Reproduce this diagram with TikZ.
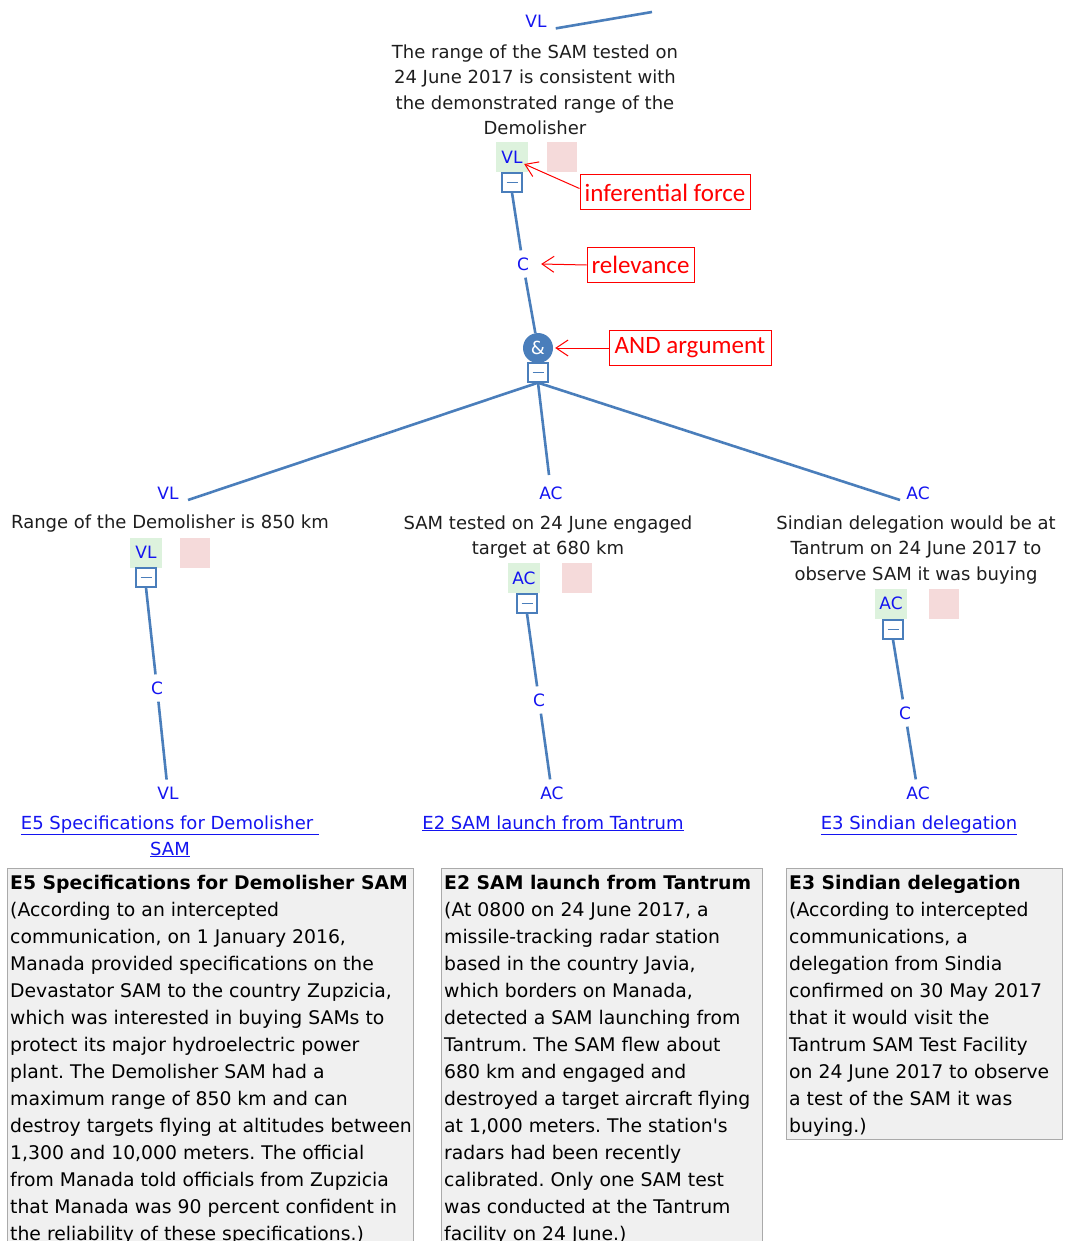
\documentclass[tikz,border=0pt]{standalone}
\usepackage{fontspec}
\usetikzlibrary{arrows.meta,calc}
\newfontfamily\gfont{DejaVu Sans}
\newfontfamily\bfont{DejaVu Sans}
\newfontfamily\afont{Carlito}
\definecolor{lineblue}{RGB}{74,126,187}
\definecolor{lblue}{RGB}{20,20,240}
\definecolor{gfill}{RGB}{221,242,221}
\definecolor{pfill}{RGB}{245,218,218}
\definecolor{boxfill}{RGB}{240,240,240}
\definecolor{boxdraw}{RGB}{170,170,170}
\definecolor{textgray}{RGB}{30,30,30}
\definecolor{annred}{RGB}{255,0,0}
\frenchspacing
\begin{document}
\begin{tikzpicture}[x=1pt,y=-1pt,
  edge/.style={draw=lineblue,line width=2.6pt},
  lbl/.style={text=lblue,font=\gfont\fontsize{17}{20}\selectfont,inner sep=0pt},
  clbl/.style={lbl,inner sep=7pt},
  gtext/.style={align=center,font=\gfont\fontsize{18}{25.5}\selectfont,text=textgray,inner sep=0pt},
  gbox/.style={fill=gfill,minimum width=32pt,minimum height=30pt,inner sep=0pt,text=lblue,font=\gfont\fontsize{17}{20}\selectfont},
  pbox/.style={fill=pfill,minimum width=30pt,minimum height=30pt,inner sep=0pt},
  mbox/.style={draw=lineblue,fill=white,line width=1.4pt,minimum width=20pt,minimum height=19pt,inner sep=0pt,
    path picture={\draw[lineblue,line width=1.5pt] ([xshift=-5.5pt]path picture bounding box.center) -- ([xshift=5.5pt]path picture bounding box.center);}},
  andc/.style={circle,fill=lineblue,minimum size=30pt,inner sep=0pt,text=white,font=\gfont\fontsize{18}{20}\selectfont},
  ann/.style={draw=annred,line width=1pt,text=annred,font=\afont\fontsize{25}{28}\selectfont,inner sep=1pt,minimum height=35pt},
  annarrow/.style={draw=annred,line width=1pt,-{Straight Barb[length=12pt,width=16pt]}},
  link/.style={text=lblue,font=\gfont\fontsize{18}{26}\selectfont,align=center,inner sep=0pt,anchor=base},
  eframe/.style={draw=boxdraw,fill=boxfill,line width=1pt},
  etext/.style={anchor=north west,align=left,inner sep=0pt,font=\bfont\fontsize{18.8}{27}\selectfont,text=black}
]
\clip (0,0) rectangle (1065,1241);
\fill[white] (0,0) rectangle (1065,1241);

% top node
\node[lbl] (vlTop) at (536,21) {VL};
\coordinate (topEnd) at (652,12);
\draw[edge] ($(vlTop.south east)+(9,1)$) -- (topEnd);
\node[gtext] (tTop) at (535,90) {The range of the SAM tested on\\24 June 2017 is consistent with\\the demonstrated range of the\\Demolisher};
\node[gbox] (gTop) at (512,157) {VL};
\node[pbox] (pTop) at (561.5,157) {};
\node[mbox] (mTop) at (512,182.5) {};
\node[clbl] (cTop) at (523,264) {C};
\node[andc] (and) at (538,348) {\&};
\node[mbox] (andm) at (538,372.5) {};
\draw[edge] (mTop.south) -- (cTop);
\draw[edge] (cTop) -- (and);

% annotations
\node[ann,minimum width=170pt] (inf) at (665,192.5) {inferential force};
\node[ann,minimum width=107pt] (rel) at (640.5,265) {relevance};
\node[ann,minimum width=162pt] (andb) at (690,348) {AND argument};
\draw[annarrow] ($(inf.west)+(0,-4)$) -- ($(gTop.east)+(-4,7)$);
\draw[annarrow] (rel.west) -- ($(cTop.east)+(5,0)$);
\draw[annarrow] (andb.west) -- ($(and.east)+(2,0)$);

% children edges
\coordinate (tL) at (188,500);
\coordinate (tM) at (549,475);
\coordinate (tR) at (900,500);
\draw[edge] (andm.south) -- (tL);
\draw[edge] (andm.south) -- (tM);
\draw[edge] (andm.south) -- (tR);

% left child
\node[lbl] (vlL) at (168,493) {VL};
\node[gtext] (txL) at (170,524) {Range of the Demolisher is 850 km};
\node[gbox] (gL) at (146,552.5) {VL};
\node[pbox] (pL) at (195,552.5) {};
\node[mbox] (mL) at (146,577.5) {};
\node[clbl] (cL) at (157,688) {C};
\node[clbl] (vlL2) at (168,793) {VL};
\draw[edge] (mL.south) -- (cL);
\draw[edge] (cL) -- (vlL2);
\node[link] (lkL) at (170,855) {\underline{E5 Specifications for Demolisher\ }\\\underline{SAM}};

% middle child
\node[lbl] (acM) at (551,493) {AC};
\node[gtext] (txM) at (548,537) {SAM tested on 24 June engaged\\target at 680 km};
\node[gbox] (gM) at (524,578) {AC};
\node[pbox] (pM) at (577,578) {};
\node[mbox] (mM) at (527,603.5) {};
\node[clbl] (cM) at (539,700) {C};
\node[clbl] (acM2) at (552,793) {AC};
\draw[edge] (mM.south) -- (cM);
\draw[edge] (cM) -- (acM2);
\node[link] (lkM) at (553,829) {\underline{E2 SAM launch from Tantrum}};

% right child
\node[lbl] (acR) at (918,493) {AC};
\node[gtext] (txR) at (916,550) {Sindian delegation would be at\\Tantrum on 24 June 2017 to\\observe SAM it was buying};
\node[gbox] (gR) at (891,603.5) {AC};
\node[pbox] (pR) at (944,603.5) {};
\node[mbox] (mR) at (893,629.5) {};
\node[clbl] (cR) at (905,713) {C};
\node[clbl] (acR2) at (918,793) {AC};
\draw[edge] (mR.south) -- (cR);
\draw[edge] (cR) -- (acR2);
\node[link] (lkR) at (919,829) {\underline{E3 Sindian delegation}};

% evidence boxes
\draw[eframe] (7,868) rectangle (413,1260);
\draw[eframe] (441,868) rectangle (762,1260);
\draw[eframe] (786,868) rectangle (1062,1139);

\node[etext] (e5) at (10,870) {\strut\textbf{E5 Specifications for Demolisher SAM}\\
(According to an intercepted\\
communication, on 1 January 2016,\\
Manada provided specifications on the\\
Devastator SAM to the country Zupzicia,\\
which was interested in buying SAMs to\\
protect its major hydroelectric power\\
plant. The Demolisher SAM had a\\
maximum range of 850 km and can\\
destroy targets flying at altitudes between\\
1,300 and 10,000 meters. The official\\
from Manada told officials from Zupzicia\\
that Manada was 90 percent confident in\\
the reliability of these specifications.)\strut};

\node[etext] (e2) at (444,870) {\strut\textbf{E2 SAM launch from Tantrum}\\
(At 0800 on 24 June 2017, a\\
missile-tracking radar station\\
based in the country Javia,\\
which borders on Manada,\\
detected a SAM launching from\\
Tantrum. The SAM flew about\\
680 km and engaged and\\
destroyed a target aircraft flying\\
at 1,000 meters. The station's\\
radars had been recently\\
calibrated. Only one SAM test\\
was conducted at the Tantrum\\
facility on 24 June.)\strut};

\node[etext] (e3) at (789,870) {\strut\textbf{E3 Sindian delegation}\\
(According to intercepted\\
communications, a\\
delegation from Sindia\\
confirmed on 30 May 2017\\
that it would visit the\\
Tantrum SAM Test Facility\\
on 24 June 2017 to observe\\
a test of the SAM it was\\
buying.)\strut};
\end{tikzpicture}
\end{document}
